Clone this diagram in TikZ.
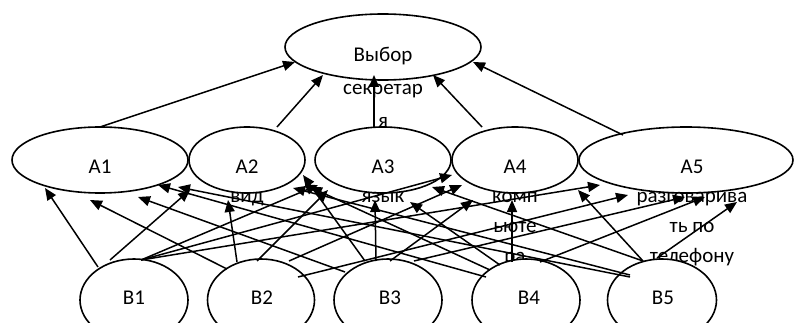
\documentclass[tikz,border=0pt]{standalone}
\usepackage{fontspec}
\setmainfont{Carlito}
\usetikzlibrary{shapes.geometric,arrows.meta,calc}
\begin{document}
\begin{tikzpicture}[x=1pt,y=-1pt,
  ell/.style={ellipse,draw,line width=1.6pt,fill=white,inner sep=0pt},
  lbl/.style={anchor=base,inner sep=0pt,font=\fontsize{21}{25}\selectfont},
  arr/.style={line width=1.5pt,-{Triangle[length=12pt,width=10pt]}}]
\useasboundingbox (0,0) rectangle (794,323);
\clip (0,0) rectangle (794,323);
% top node
\node[ell,minimum width=196pt,minimum height=66pt] (top) at (383,47) {};
\node[lbl] (t1) at (383,62) {Выбор};
\node[lbl] (t2) at (383,95) {секретар};
\node[lbl] (t3) at (383,128) {я};
% A row
\node[ell,minimum width=176pt,minimum height=66pt] (a1) at (100,160) {};
\node[ell,minimum width=116pt,minimum height=66pt] (a2) at (247,160) {};
\node[ell,minimum width=136pt,minimum height=66pt] (a3) at (383,160) {};
\node[ell,minimum width=126pt,minimum height=66pt] (a4) at (515,160) {};
\node[ell,minimum width=214pt,minimum height=66pt] (a5) at (686,160) {};
\node[lbl] (la1) at (100,173) {A1};
\node[lbl] (la2) at (247,173) {A2};
\node[lbl] (la2b) at (247,202) {вид};
\node[lbl] (la3) at (383,173) {A3};
\node[lbl] (la3b) at (383,202) {язык};
\node[lbl] (la4) at (515,173) {A4};
\node[lbl] (la4b) at (515,202) {комп};
\node[lbl] (la4c) at (515,232) {ьюте};
\node[lbl] (la4d) at (515,262) {ра};
\node[lbl] (la5) at (692,173) {A5};
\node[lbl] (la5b) at (692,202) {разговарива};
\node[lbl] (la5c) at (692,232) {ть по};
\node[lbl] (la5d) at (692,262) {телефону};
% B row
\node[ell,minimum width=108pt,minimum height=82pt] (b1) at (134,300) {};
\node[ell,minimum width=107pt,minimum height=82pt] (b2) at (261,300) {};
\node[ell,minimum width=108pt,minimum height=82pt] (b3) at (388,300) {};
\node[ell,minimum width=108pt,minimum height=82pt] (b4) at (526,300) {};
\node[ell,minimum width=109pt,minimum height=82pt] (b5) at (662,300) {};
\node[lbl] (lb1) at (134,304) {B1};
\node[lbl] (lb2) at (262,304) {B2};
\node[lbl] (lb3) at (390,304) {B3};
\node[lbl] (lb4) at (529,304) {B4};
\node[lbl] (lb5) at (663,304) {B5};
% A -> top
\draw[arr] ($(a1)+(0,-33)$) -- ($(top)+(-88,15)$);
\draw[arr] ($(a2)+(30,-33)$) -- ($(top)+(-60,28)$);
\draw[arr] ($(a3)+(-9,-33)$) -- ($(top)+(-9,28)$);
\draw[arr] ($(a4)+(-33,-33)$) -- ($(top)+(50,28)$);
\draw[arr] ($(a5)+(-63,-25)$) -- ($(top)+(90,15)$);
% B1
\draw[arr] ($(b1)+(-36,-33)$) -- ($(a1)+(-55,28)$);
\draw[arr] ($(b1)+(-24,-40)$) -- ($(a2)+(-57,30)$);
\draw[arr] ($(b1)+(7,-40)$) -- ($(a3)+(-65,25)$);
\draw[arr] ($(b1)+(7,-40)$) -- ($(a4)+(-63,15)$);
\draw[arr] ($(b1)+(7,-40)$) -- ($(a5)+(-86,25)$);
% B2
\draw[arr] ($(b2)+(-34,-31)$) -- ($(a1)+(-10,40)$);
\draw[arr] ($(b2)+(-24,-38)$) -- ($(a2)+(-19,40)$);
\draw[arr] ($(b2)+(-4,-39)$) -- ($(a3)+(-55,30)$);
\draw[arr] ($(b2)+(28,-39)$) -- ($(a4)+(-53,25)$);
\draw[arr] ($(b2)+(37,-23)$) -- ($(a5)+(-58,35)$);
% B3
\draw[arr] ($(b3)+(-43,-28)$) -- ($(a1)+(38,37)$);
\draw[arr] ($(b3)+(-23,-39)$) -- ($(a2)+(56,15)$);
\draw[arr] ($(b3)+(-12,-39)$) -- ($(a3)+(-8,40)$);
\draw[arr] ($(b3)+(2,-39)$) -- ($(a4)+(-42,40)$);
\draw[arr] ($(b3)+(26,-39)$) -- ($(a5)+(-1,37)$);
% B4
\draw[arr] ($(b4)+(-40,-23)$) -- ($(a1)+(58,25)$);
\draw[arr] ($(b4)+(-36,-30)$) -- ($(a2)+(63,27)$);
\draw[arr] ($(b4)+(-26,-35)$) -- ($(a3)+(27,42)$);
\draw[arr] ($(b4)+(-14,-38)$) -- ($(a4)+(-3,40)$);
\draw[arr] ($(b4)+(14,-38)$) -- ($(a5)+(19,37)$);
% B5
\draw[arr] ($(b5)+(-32,-23)$) -- ($(a1)+(78,27)$);
\draw[arr] ($(b5)+(-32,-25)$) -- ($(a2)+(46,28)$);
\draw[arr] ($(b5)+(-19,-39)$) -- ($(a3)+(49,27)$);
\draw[arr] ($(b5)+(-19,-39)$) -- ($(a4)+(63,30)$);
\draw[arr] ($(b5)+(-5,-42)$) -- ($(a5)+(51,42)$);
\end{tikzpicture}
\end{document}
